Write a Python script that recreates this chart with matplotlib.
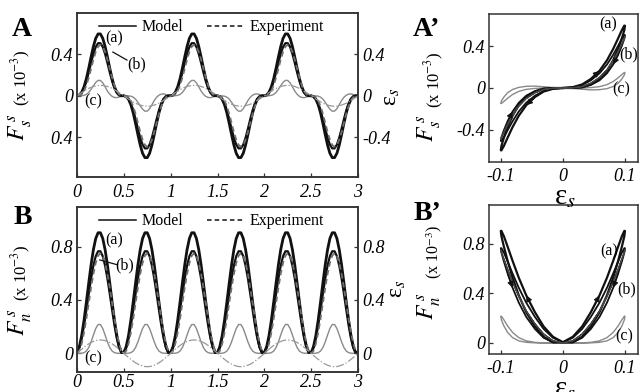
import numpy as np
import matplotlib
matplotlib.use('Agg')
import matplotlib.pyplot as plt
from matplotlib.lines import Line2D

plt.rcParams['font.family'] = ['Liberation Serif', 'DejaVu Serif']
plt.rcParams['mathtext.fontset'] = 'stix'

# ---------------- data ----------------
dt = 0.025                     # sampling step of the readings (s)
n_cycles = 3                   # strain cycles shown

# shear strain, one cycle (t = 0 ... 0.975)
strain_cycle = [0.000, 0.016, 0.031, 0.045, 0.059, 0.071, 0.081, 0.089, 0.095, 0.099,
                0.100, 0.099, 0.095, 0.089, 0.081, 0.071, 0.059, 0.045, 0.031, 0.016,
                0.000, -0.016, -0.031, -0.045, -0.059, -0.071, -0.081, -0.089, -0.095, -0.099,
                -0.100, -0.099, -0.095, -0.089, -0.081, -0.071, -0.059, -0.045, -0.031, -0.016]

# shear force F_s (x 1e-3), one cycle
Fs_a_cycle = [0.000, 0.008, 0.034, 0.086, 0.164, 0.264, 0.372, 0.473, 0.552, 0.594,
              0.594, 0.552, 0.473, 0.372, 0.264, 0.164, 0.086, 0.034, 0.008, 0.000,
              -0.000, -0.008, -0.034, -0.086, -0.164, -0.264, -0.372, -0.473, -0.552, -0.594,
              -0.594, -0.552, -0.473, -0.372, -0.264, -0.164, -0.086, -0.034, -0.008, -0.000]
Fs_b_cycle = [0.000, 0.006, 0.029, 0.073, 0.140, 0.224, 0.316, 0.402, 0.469, 0.505,
              0.505, 0.469, 0.402, 0.316, 0.224, 0.140, 0.073, 0.029, 0.006, 0.000,
              -0.000, -0.006, -0.029, -0.073, -0.140, -0.224, -0.316, -0.402, -0.469, -0.505,
              -0.505, -0.469, -0.402, -0.316, -0.224, -0.140, -0.073, -0.029, -0.006, -0.000]
Fs_exp_cycle = [0.000, 0.002, 0.014, 0.046, 0.100, 0.173, 0.259, 0.347, 0.422, 0.472,
                0.490, 0.472, 0.422, 0.347, 0.259, 0.173, 0.100, 0.046, 0.014, 0.002,
                -0.000, -0.002, -0.014, -0.046, -0.100, -0.173, -0.259, -0.347, -0.422, -0.472,
                -0.490, -0.472, -0.422, -0.347, -0.259, -0.173, -0.100, -0.046, -0.014, -0.002]
Fs_c_cycle = [0.000, 0.000, 0.001, 0.004, 0.013, 0.032, 0.062, 0.097, 0.128, 0.148,
              0.147, 0.124, 0.086, 0.045, 0.014, -0.006, -0.016, -0.018, -0.012, -0.004,
              -0.000, -0.000, -0.001, -0.004, -0.013, -0.032, -0.062, -0.097, -0.128, -0.148,
              -0.147, -0.124, -0.086, -0.045, -0.014, 0.006, 0.016, 0.018, 0.012, 0.004]

# normal force F_n (x 1e-3), one cycle of period 0.5 (t = 0 ... 0.475)
Fn_a_cycle = [0.006, 0.050, 0.133, 0.248, 0.384, 0.526, 0.662, 0.777, 0.861, 0.904,
              0.904, 0.861, 0.777, 0.662, 0.526, 0.384, 0.248, 0.133, 0.050, 0.006]
Fn_b_cycle = [0.005, 0.042, 0.113, 0.210, 0.325, 0.445, 0.560, 0.657, 0.728, 0.765,
              0.765, 0.728, 0.657, 0.560, 0.445, 0.325, 0.210, 0.113, 0.042, 0.005]
Fn_exp_cycle = [0.000, 0.018, 0.072, 0.155, 0.259, 0.375, 0.491, 0.595, 0.678, 0.732,
                0.750, 0.732, 0.678, 0.595, 0.491, 0.375, 0.259, 0.155, 0.072, 0.018]
Fn_c_cycle = [0.000, 0.000, 0.001, 0.005, 0.017, 0.043, 0.085, 0.137, 0.186, 0.216,
              0.216, 0.186, 0.137, 0.085, 0.043, 0.017, 0.005, 0.001, 0.000, 0.000]

time_ticks = [0, 0.5, 1, 1.5, 2, 2.5, 3]
time_labels = ['0', '0.5', '1', '1.5', '2', '2.5', '3']
fsA_ticks = [-0.4, 0, 0.4]
fsA_labels = ['0.4', '0', '0.4']
epsA_labels = ['-0.4', '0', '0.4']
fnB_ticks = [0, 0.4, 0.8]
fnB_labels = ['0', '0.4', '0.8']
strain_ticks = [-0.1, 0, 0.1]
strain_labels = ['-0.1', '0', '0.1']
fsP_labels = ['-0.4', '0', '0.4']


def repeat(cycle, n):
    arr = np.tile(np.asarray(cycle, float), n)
    return np.append(arr, cycle[0])


strain = repeat(strain_cycle, n_cycles)
t = np.arange(len(strain)) * dt
Fs_a = repeat(Fs_a_cycle, n_cycles)
Fs_b = repeat(Fs_b_cycle, n_cycles)
Fs_e = repeat(Fs_exp_cycle, n_cycles)
Fs_c = repeat(Fs_c_cycle, n_cycles)
Fn_a = repeat(Fn_a_cycle, 2 * n_cycles)
Fn_b = repeat(Fn_b_cycle, 2 * n_cycles)
Fn_e = repeat(Fn_exp_cycle, 2 * n_cycles)
Fn_c = repeat(Fn_c_cycle, 2 * n_cycles)

# one cycle for the loops
s1 = repeat(strain_cycle, 1)
loopS = [repeat(c, 1) for c in (Fs_a_cycle, Fs_b_cycle, Fs_exp_cycle, Fs_c_cycle)]
loopN = [repeat(c, 2) for c in (Fn_a_cycle, Fn_b_cycle, Fn_exp_cycle, Fn_c_cycle)]

# ---------------- figure ----------------
W, H = 640, 392
fig = plt.figure(figsize=(W / 100, H / 100), dpi=100)


def box(l, r, top, bot):
    return [l / W, 1 - bot / H, (r - l) / W, (bot - top) / H]


SPINE = '#333333'
BLACK = '#111111'
GREY_C = '#8a8a8a'
GREY_E = '#6e6e6e'
GREY_S = '#9a9a9a'
TICK_FS = 13


def style(ax, xpad=5):
    for sp in ax.spines.values():
        sp.set_color(SPINE)
        sp.set_linewidth(1.1)
    ax.tick_params(axis='both', direction='in', length=3, width=0.9, color=SPINE, pad=3)
    ax.tick_params(axis='x', pad=xpad)


axA = fig.add_axes(box(77, 358, 13, 177))
axB = fig.add_axes(box(77, 358, 207, 372))
axAp = fig.add_axes(box(489, 638, 14, 162))
axBp = fig.add_axes(box(489, 638, 205, 354))

# ---- panel A ----
axA.plot(t, Fs_c, color=GREY_C, lw=1.0)
axA.plot(t, Fs_a, color=BLACK, lw=2.0)
axA.plot(t, Fs_b, color=BLACK, lw=1.6)
axA.plot(t, Fs_e, color=GREY_E, lw=1.3, ls='--', dashes=(3, 2))
axA.set_xlim(0, 3)
axA.set_ylim(-0.78, 0.795)
twA = axA.twinx()
twA.plot(t, strain, color=GREY_S, lw=0.9, ls='-.')
twA.set_ylim(-0.78, 0.795)

# ---- panel B ----
axB.plot(t, Fn_c, color=GREY_C, lw=1.0)
axB.plot(t, Fn_a, color=BLACK, lw=2.0)
axB.plot(t, Fn_b, color=BLACK, lw=1.6)
axB.plot(t, Fn_e, color=GREY_E, lw=1.3, ls='--', dashes=(3, 2))
axB.set_xlim(0, 3)
axB.set_ylim(-0.14, 1.097)
twB = axB.twinx()
twB.plot(t, strain, color=GREY_S, lw=0.9, ls='-.')
twB.set_ylim(-0.14, 1.097)

for ax, tw, yt, yl, tl, xp in ((axA, twA, fsA_ticks, fsA_labels, epsA_labels, 5),
                               (axB, twB, fnB_ticks, fnB_labels, fnB_labels, 1.5)):
    style(ax, xp)
    style(tw, xp)
    ax.set_xticks(time_ticks)
    ax.set_xticklabels(time_labels, fontstyle='italic', fontsize=TICK_FS)
    ax.set_yticks(yt)
    ax.set_yticklabels(yl, fontstyle='italic', fontsize=TICK_FS)
    tw.set_yticks(yt)
    tw.set_yticklabels(tl, fontstyle='italic', fontsize=TICK_FS)
    handles = [Line2D([], [], color=BLACK, lw=1.1),
               Line2D([], [], color=BLACK, lw=1.1, ls='--', dashes=(3, 2))]
    ax.legend(handles, ['Model', 'Experiment'], ncol=2, frameon=False, fontsize=11.5,
              loc='upper left', bbox_to_anchor=(0.055, 1.0), borderaxespad=0,
              handlelength=2.3, handletextpad=0.35, columnspacing=1.5)

# ---- loops ----
for ax, loops, ylim, yt, yl in ((axAp, loopS, (-0.705, 0.705), fsA_ticks, fsP_labels),
                                (axBp, loopN, (-0.089, 1.113), fnB_ticks, fnB_labels)):
    ax.plot(s1, loops[3], color=GREY_C, lw=1.0)
    ax.plot(s1, loops[0], color=BLACK, lw=1.6)
    ax.plot(s1, loops[1], color=BLACK, lw=1.3)
    ax.plot(s1, loops[2], color='#444444', lw=0.9)
    ax.set_xlim(-0.119, 0.121)
    ax.set_ylim(*ylim)
    style(ax, 4)
    ax.set_xticks(strain_ticks)
    ax.set_xticklabels(strain_labels, fontstyle='italic', fontsize=TICK_FS)
    ax.set_yticks(yt)
    ax.set_yticklabels(yl, fontstyle='italic', fontsize=TICK_FS)
    # direction arrows along the loops
    for series, idx in ((loops[0], 3), (loops[1], 13), (loops[0], 23), (loops[1], 33)):
        ax.annotate('', xy=(s1[idx + 1], series[idx + 1]), xytext=(s1[idx], series[idx]),
                    arrowprops=dict(arrowstyle='-|>', color=BLACK, lw=0.8,
                                    mutation_scale=9, shrinkA=0, shrinkB=0))

# ---- annotations ----
ann = dict(fontsize=11.5, ha='center', va='center')
axA.text(0.393, 0.555, '(a)', **ann)
axA.text(0.64, 0.305, '(b)', **ann)
axA.plot([0.383, 0.533], [0.42, 0.343], color=BLACK, lw=0.9)
axA.text(0.168, -0.05, '(c)', **ann)
axB.text(0.393, 0.85, '(a)', **ann)
axB.text(0.511, 0.662, '(b)', **ann)
axB.plot([0.243, 0.425], [0.70, 0.665], color=BLACK, lw=0.9)
axB.text(0.17, -0.04, '(c)', **ann)
axAp.text(0.0726, 0.61, '(a)', **ann)
axAp.text(0.106, 0.32, '(b)', **ann)
axAp.text(0.094, -0.01, '(c)', **ann)
axBp.text(0.074, 0.74, '(a)', **ann)
axBp.text(0.103, 0.43, '(b)', **ann)
axBp.text(0.098, 0.05, '(c)', **ann)


def ftext(x, y, s, **kw):
    fig.text(x / W, 1 - y / H, s, **kw)


# panel letters
ftext(22, 30, 'A', fontsize=20, fontweight='bold', ha='center', va='center')
ftext(23, 217, 'B', fontsize=20, fontweight='bold', ha='center', va='center')
ftext(413, 29, 'A\u2019', fontsize=20, fontweight='bold', ha='left', va='center')
ftext(414, 214, 'B\u2019', fontsize=20, fontweight='bold', ha='left', va='center')

# y labels
rot = dict(rotation=90, ha='center', va='center')
ftext(20, 127, r'$F^{\,s}_{s}$', fontsize=17, **rot)
ftext(21, 78, r'(x 10$^{-3}$)', fontsize=12, **rot)
ftext(20, 322, r'$F^{\,s}_{n}$', fontsize=17, **rot)
ftext(21, 273, r'(x 10$^{-3}$)', fontsize=12, **rot)
ftext(429, 128, r'$F^{\,s}_{s}$', fontsize=17, **rot)
ftext(434, 80, r'(x 10$^{-3}$)', fontsize=12, **rot)
ftext(429, 306, r'$F^{\,s}_{n}$', fontsize=17, **rot)
ftext(434, 252, r'(x 10$^{-3}$)', fontsize=11.5, **rot)

# strain labels
ftext(392, 97, '\u03b5$_{s}$', fontsize=17, **rot)
ftext(397, 289, '\u03b5$_{s}$', fontsize=17, **rot)
ftext(565, 197, '\u03b5$_{s}$', fontsize=21, ha='center', va='center')
ftext(565, 389, '\u03b5$_{s}$', fontsize=21, ha='center', va='center')

fig.savefig('out.png', dpi=100)
